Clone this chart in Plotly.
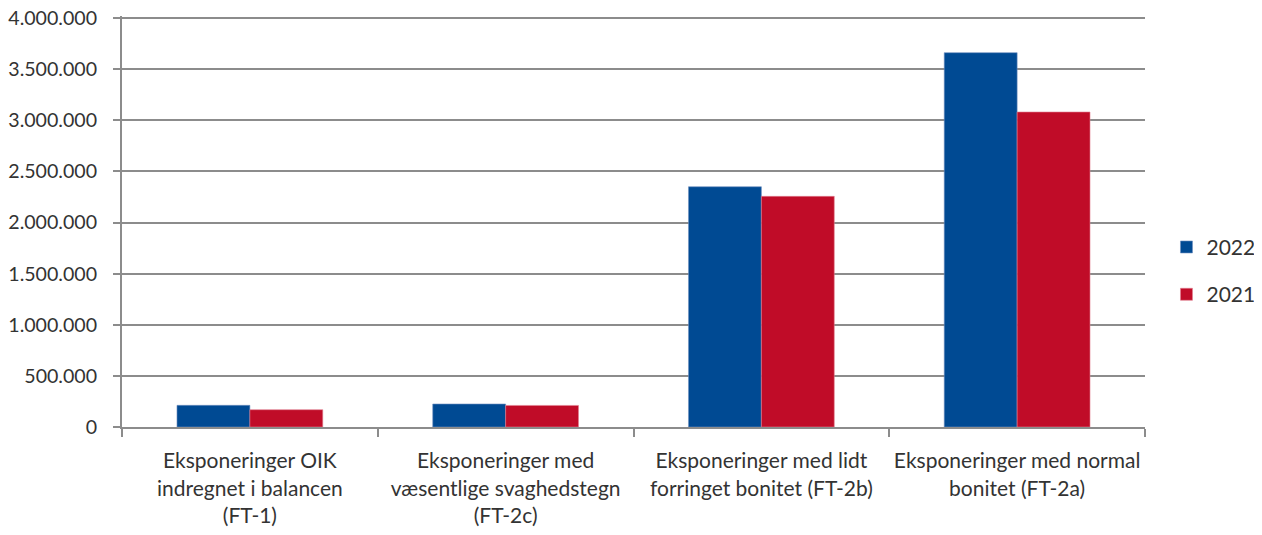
import plotly.graph_objects as go

# -------------------------------
# DATA
# -------------------------------
categories = [
    "Eksponeringer OIK<br>indregnet i balancen<br>(FT-1)",
    "Eksponeringer med<br>væsentlige svaghedstegn<br>(FT-2c)",
    "Eksponeringer med lidt<br>forringet bonitet (FT-2b)",
    "Eksponeringer med normal<br>bonitet (FT-2a)",
]
values_2022 = [212000, 225000, 2350000, 3661000]
values_2021 = [169000, 211000, 2256000, 3081000]
y_ticks = [0, 500000, 1000000, 1500000, 2000000, 2500000, 3000000, 3500000, 4000000]

# -------------------------------
# PLOT CHART
# -------------------------------
font_name = "Lato"
grey = "#8c8c8c"
text_col = "#333333"

fig = go.Figure()

fig.add_trace(go.Bar(
    x=categories,
    y=values_2022,
    name="2022",
    legendgroup="a",
    marker=dict(color="#004a93", line=dict(color="#6f8fbf", width=0.6)),
))

fig.add_trace(go.Bar(
    x=categories,
    y=values_2021,
    name="2021",
    legendgroup="b",
    marker=dict(color="#c00c28", line=dict(color="#e08090", width=0.6)),
))

# page body has an 8px margin, so everything is shifted by -8 here
# range goes a hair above 4.000.000 so the top gridline is not dropped at the edge
fig.update_layout(
    width=1262,
    height=535,
    margin=dict(l=114, r=125, t=8, b=116, autoexpand=False),
    paper_bgcolor="white",
    plot_bgcolor="white",
    separators=",.",
    barmode="group",
    bargap=0.43,
    bargroupgap=0,
    font=dict(family=font_name, size=20, color=text_col),
    showlegend=True,
    legend=dict(
        x=1.021, y=0.38, xanchor="left", yanchor="middle",
        font=dict(size=21, color=text_col),
        tracegroupgap=17,
        itemwidth=30,
        bgcolor="rgba(0,0,0,0)",
    ),
)

fig.update_xaxes(
    type="category",
    automargin=False,
    tickangle=0,
    showline=True, linecolor=grey, linewidth=2,
    showgrid=False,
    ticks="outside", tickson="boundaries", ticklen=8, tickcolor=grey, tickwidth=2,
    ticklabelstandoff=14,
    tickfont=dict(size=21, color=text_col),
)

fig.update_yaxes(
    range=[0, 4020000],
    automargin=False,
    tickvals=y_ticks,
    tickformat=",d",
    ticklabeloverflow="allow",
    showline=True, linecolor=grey, linewidth=2,
    showgrid=True, gridcolor=grey, gridwidth=2,
    ticks="outside", ticklen=7, tickcolor=grey, tickwidth=2,
    ticklabelstandoff=12,
    tickfont=dict(size=19.6, color=text_col),
    zeroline=False,
)

fig.write_html("out.html")
